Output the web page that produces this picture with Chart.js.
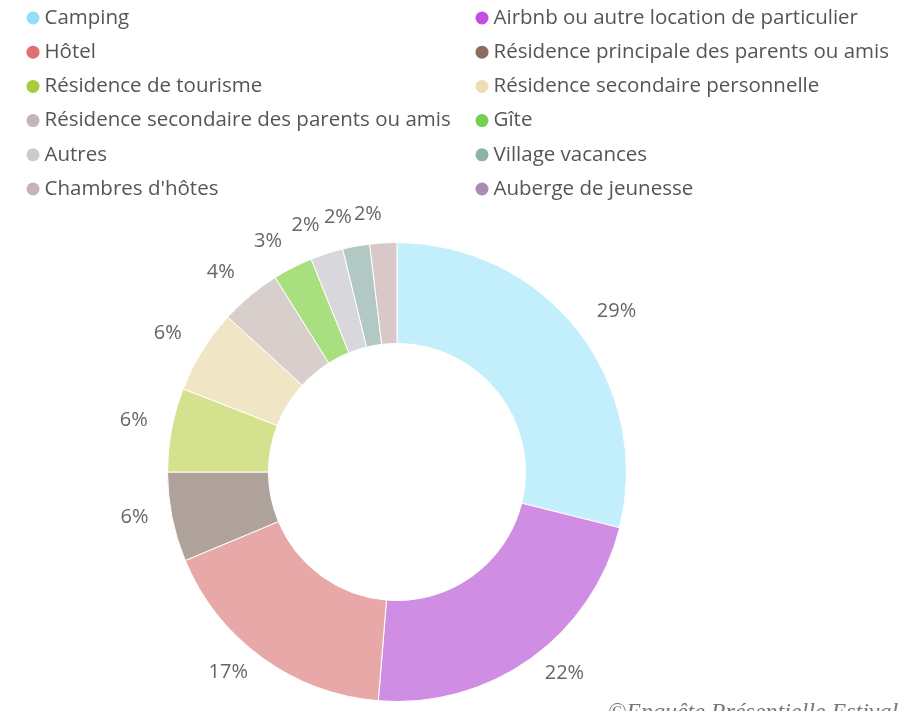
<!DOCTYPE html>
<html>
<head>
<meta charset="utf-8">
<script src="https://cdn.jsdelivr.net/npm/chart.js@4/dist/chart.umd.min.js"></script>
<style>
  html, body { margin: 0; padding: 0; background: #ffffff; }
  #wrap { position: relative; width: 900px; height: 711px; overflow: hidden; }
  canvas { display: block; }
</style>
</head>
<body>
<div id="wrap"><canvas id="c" width="900" height="711"></canvas></div>
<script>
const categories = [
  "Camping",
  "Airbnb ou autre location de particulier",
  "Hôtel",
  "Résidence principale des parents ou amis",
  "Résidence de tourisme",
  "Résidence secondaire personnelle",
  "Résidence secondaire des parents ou amis",
  "Gîte",
  "Autres",
  "Village vacances",
  "Chambres d'hôtes",
  "Auberge de jeunesse"
];
const shares = [28.9, 22.4, 17.4, 6.3, 5.9, 5.9, 4.3, 2.8, 2.3, 1.9, 1.9, 0];
const percentLabels = ["29%", "22%", "17%", "6%", "6%", "6%", "4%", "3%", "2%", "2%", "2%", ""];
const sliceColors = [
  "#C3EFFC", "#CF8DE3", "#E8A8A8", "#AFA29B", "#D4E28E", "#F0E6C5",
  "#D8CFCD", "#A8E07F", "#D8D8DC", "#B2C8C3", "#DAC8C8", "#C4AEC4"
];
const legendColors = [
  "#8FE0F7", "#C24FE0", "#E07070", "#8C6C60", "#A9CB3E", "#EDDDB2",
  "#C5B6B6", "#74CF52", "#CBCBCB", "#8FB2A8", "#C9B2B2", "#AA8CB0"
];
const creditText = "©Enquête Présentielle Estivale";

const FONT = "'Open Sans', 'Noto Sans', sans-serif";

const outsideLabels = {
  id: 'outsideLabels',
  afterDatasetsDraw(chart) {
    const ctx = chart.ctx;
    const meta = chart.getDatasetMeta(0);
    ctx.save();
    ctx.font = "20px " + FONT;
    ctx.fillStyle = "#666666";
    ctx.textBaseline = "middle";
    meta.data.forEach((arc, i) => {
      const txt = percentLabels[i];
      if (!txt) return;
      const p = arc.getProps(['x', 'y', 'startAngle', 'endAngle', 'outerRadius'], true);
      const mid = (p.startAngle + p.endAngle) / 2;
      const r = p.outerRadius + 24;
      const x = p.x + Math.cos(mid) * r;
      const y = p.y + Math.sin(mid) * r - 5;
      ctx.textAlign = Math.cos(mid) >= 0 ? "left" : "right";
      ctx.fillText(txt, x, y);
    });
    ctx.restore();
  }
};

const customLegend = {
  id: 'customLegend',
  afterDraw(chart) {
    const ctx = chart.ctx;
    ctx.save();
    ctx.font = "20.5px " + FONT;
    ctx.textBaseline = "middle";
    ctx.textAlign = "left";
    chart.data.labels.forEach((lab, i) => {
      const col = i % 2;
      const row = Math.floor(i / 2);
      const x = col === 0 ? 33 : 482;
      const y = 18 + row * 34.2;
      ctx.beginPath();
      ctx.fillStyle = legendColors[i];
      ctx.arc(x, y, 6.5, 0, Math.PI * 2);
      ctx.fill();
      ctx.fillStyle = "#555555";
      ctx.fillText(lab, x + 11.5, y);
    });
    // credit
    ctx.font = "italic 24px 'Liberation Serif', 'DejaVu Serif', serif";
    ctx.fillStyle = "#777777";
    ctx.textBaseline = "alphabetic";
    ctx.fillText(creditText, 608, 719);
    ctx.restore();
  }
};

new Chart(document.getElementById('c'), {
  type: 'doughnut',
  data: {
    labels: categories,
    datasets: [{
      data: shares,
      backgroundColor: sliceColors,
      borderColor: "#ffffff",
      borderWidth: 1,
      hoverOffset: 0
    }]
  },
  options: {
    responsive: false,
    animation: false,
    cutout: '56%',
    layout: { padding: { top: 242, bottom: 9, left: 167, right: 273 } },
    plugins: {
      legend: { display: false },
      tooltip: { enabled: false }
    }
  },
  plugins: [outsideLabels, customLegend]
});
</script>
</body>
</html>
